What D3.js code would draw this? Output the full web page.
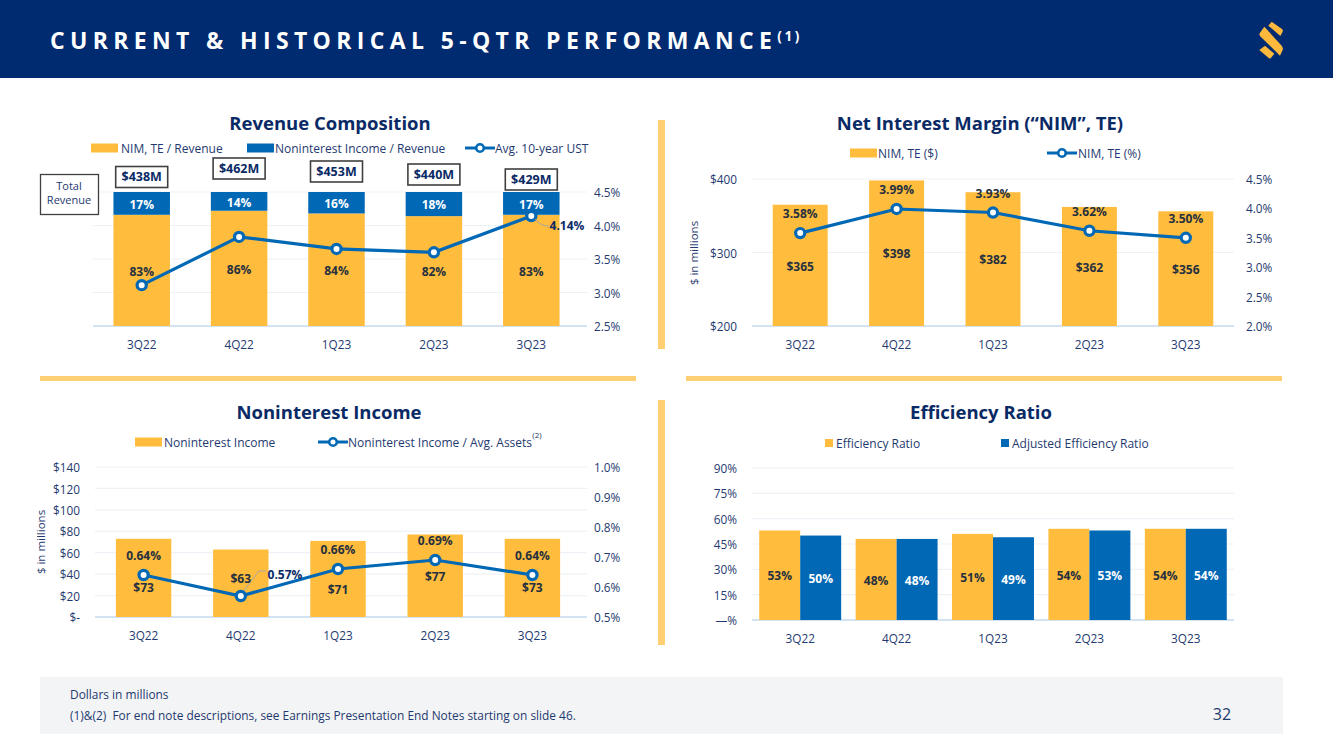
<!DOCTYPE html>
<html><head><meta charset="utf-8">
<script src="https://cdn.jsdelivr.net/npm/d3@7/dist/d3.min.js"></script>
<style>
html,body{margin:0;padding:0;background:#fff;overflow:hidden}
svg{display:block}
text{font-family:"Open Sans",sans-serif}
.tick text{fill:#1f3a70;font-size:11.8px}
</style></head><body><svg id="c" width="1333" height="749"></svg>
<script>
const quarters = ["3Q22","4Q22","1Q23","2Q23","3Q23"];
const nimShare = [83,86,84,82,83];
const nonintShare = [17,14,16,18,17];
const avgUst = [3.11,3.83,3.65,3.60,4.14];
const totalRevenue = ["$438M","$462M","$453M","$440M","$429M"];
const nimDollars = [365,398,382,362,356];
const nimPercent = [3.58,3.99,3.93,3.62,3.50];
const nonintDollars = [73,63,71,77,73];
const nonintAssets = [0.64,0.57,0.66,0.69,0.64];
const effRatio = [53,48,51,54,54];
const adjEffRatio = [50,48,49,53,54];
const revRightTicks = [2.5,3,3.5,4,4.5];
const nimLeftTicks = [200,300,400];
const nimRightTicks = [2,2.5,3,3.5,4,4.5];
const nonintLeftTicks = [0,20,40,60,80,100,120,140];
const nonintRightTicks = [0.5,0.6,0.7,0.8,0.9,1.0];
const effTicks = [0,15,30,45,60,75,90];

// layout nudges for hand-placed labels in the original slide
const totalBoxCenters = [177,168.5,171.5,174.5,179.5];
const nonintDollarLabelY = [588,579,590,577,588];

const YEL="#FFBC3D", BLU="#0068B5", NAVY="#0A2A66", TXT="#1F3A70", DARK="#26303F", GRID="#EEF1F6", BASE="#C9DCF0";
const svg=d3.select("#c");

// page chrome
svg.append("rect").attr("width",1333).attr("height",78).attr("fill","#002B70");
svg.append("text").attr("x",50).attr("y",49).attr("fill","#fff").attr("font-size",23).attr("font-weight",700)
  .attr("letter-spacing",5.35).text("CURRENT & HISTORICAL 5-QTR PERFORMANCE")
  .append("tspan").attr("font-size",13.5).attr("dy",-8).attr("letter-spacing",2.5).text("(1)");
const logo=svg.append("g").attr("transform","translate(1230,5) scale(.3333)").attr("fill","#FDB93C");
["M115 62L125 50L156 72Q160 76 158 80L151 93Z","M89 85L103 65L155 122Q160 128 158 135L150 152L92 95Q87 90 89 85Z","M88 135L105 122L133 146L122 160Q120 161 117 160Z"]
 .forEach(d=>logo.append("path").attr("d",d));
[[658,120,7,229],[40,376,596,5],[686,376,596,5],[658,400,7,245]].forEach(r=>
  svg.append("rect").attr("x",r[0]).attr("y",r[1]).attr("width",r[2]).attr("height",r[3]).attr("fill","#FFD073"));
svg.append("rect").attr("x",40).attr("y",677).attr("width",1243).attr("height",57).attr("fill","#F3F4F5");
svg.append("text").attr("x",70).attr("y",699).attr("font-size",11.9).attr("fill",TXT).text("Dollars in millions");
svg.append("text").attr("x",70).attr("y",720).attr("font-size",11.9).attr("fill",TXT).text("(1)&(2)\u00A0\u00A0For end note descriptions, see Earnings Presentation End Notes starting on slide 46.");
svg.append("text").attr("x",1222).attr("y",720).attr("font-size",16).attr("text-anchor","middle").attr("fill",TXT).text("32");

function title(t,x,y){svg.append("text").attr("x",x).attr("y",y).attr("text-anchor","middle").attr("font-size",18.5).attr("font-weight",700).attr("fill",NAVY).text(t);}
function label(t,x,y,col,size){return svg.append("text").attr("x",x).attr("y",y).attr("dy","0.35em").attr("text-anchor","middle").attr("font-size",size||12).attr("font-weight",700).attr("fill",col||DARK).text(t);}
function legendText(t,x,y){return svg.append("text").attr("x",x).attr("y",y+0.8).attr("dy","0.35em").attr("font-size",12).attr("fill",TXT).text(t);}
function swatch(x,y,w,col){const h=w<12?w:9;svg.append("rect").attr("x",x).attr("y",y-h/2).attr("width",w).attr("height",h).attr("fill",col);}
function legendLine(x,y){svg.append("line").attr("x1",x).attr("x2",x+30).attr("y1",y).attr("y2",y).attr("stroke",BLU).attr("stroke-width",3);
  svg.append("circle").attr("cx",x+15).attr("cy",y).attr("r",3.8).attr("fill","#fff").attr("stroke",BLU).attr("stroke-width",2.6);}
function frame(cfg){
  const x=d3.scaleBand().domain(quarters).range([cfg.x0,cfg.x1]).paddingInner(cfg.pad).paddingOuter(cfg.pad/2);
  const gridScale=cfg.left||cfg.right;
  const g=svg.append("g");
  cfg.gridTicks.forEach(t=>{g.append("line").attr("x1",cfg.x0).attr("x2",cfg.gx1||cfg.x1).attr("y1",gridScale(t)).attr("y2",gridScale(t)).attr("stroke",GRID).attr("stroke-width",1.2);});
  g.append("line").attr("x1",cfg.x0).attr("x2",cfg.gx1||cfg.x1).attr("y1",cfg.y1).attr("y2",cfg.y1).attr("stroke",BASE).attr("stroke-width",1.4);
  const ax=d3.axisBottom(x).tickSize(0).tickPadding(0);
  const a=svg.append("g").attr("transform",`translate(0,${cfg.y1+18.8})`).call(ax);
  a.select(".domain").remove();a.selectAll("text").attr("dy","0.35em");
  return x;
}
function yAxis(scale,ticks,fmt,xPos,side,anchor){
  const ax=(side==="left"?d3.axisLeft(scale):d3.axisRight(scale)).tickValues(ticks).tickFormat(fmt).tickSize(0).tickPadding(0);
  const a=svg.append("g").attr("transform",`translate(${xPos},0.8)`).call(ax);
  a.select(".domain").remove();
  if(anchor)a.selectAll("text").attr("text-anchor",anchor);
}
function combo(x,y,vals){
  const cx=d=>x(quarters[d])+x.bandwidth()/2;
  svg.append("path").attr("d",d3.line().x((d,i)=>cx(i)).y(d=>y(d))(vals)).attr("fill","none").attr("stroke",BLU).attr("stroke-width",3.2);
  svg.append("g").selectAll("circle").data(vals).join("circle").attr("cx",(d,i)=>cx(i)).attr("cy",d=>y(d)).attr("r",4.6).attr("fill","#fff").attr("stroke",BLU).attr("stroke-width",3.2);
}
function ylabel(t,x,y){svg.append("text").attr("transform",`translate(${x},${y}) rotate(-90)`).attr("text-anchor","middle").attr("font-size",11.5).attr("fill",TXT).text(t);}
const usd=d=>"$"+d, pct1=d=>d3.format(".1f")(d)+"%";

// ---- Revenue Composition
(function(){
  const y0=192,y1=326;
  title("Revenue Composition",330,130);
  swatch(91,148,27,YEL);legendText("NIM, TE / Revenue",121,148);
  swatch(247,148,27,BLU);legendText("Noninterest Income / Revenue",275,148);
  legendLine(465,148);legendText("Avg. 10-year UST",495,148);
  const s=d3.scaleLinear().domain([0,100]).range([y1,y0]);
  const r=d3.scaleLinear().domain([2.5,4.5]).range([y1,y0]);
  const x=frame({x0:93,x1:580,gx1:587,y1,pad:0.42,left:null,right:r,gridTicks:revRightTicks});
  yAxis(r,revRightTicks,pct1,594,"right");
  svg.append("g").selectAll("rect").data(nimShare).join("rect").attr("x",(d,i)=>x(quarters[i])).attr("width",x.bandwidth()).attr("y",d=>s(d)).attr("height",d=>y1-s(d)).attr("fill",YEL);
  svg.append("g").selectAll("rect").data(nonintShare).join("rect").attr("x",(d,i)=>x(quarters[i])).attr("width",x.bandwidth()).attr("y",s(100)).attr("height",d=>y1-s(d)).attr("fill",BLU);
  combo(x,r,avgUst);
  quarters.forEach((q,i)=>{
    const c=x(q)+x.bandwidth()/2;
    label(nimShare[i]+"%",c,(s(nimShare[i])+y1)/2+1);
    label(nonintShare[i]+"%",c,(s(nimShare[i])+y0)/2+1,"#fff");
    svg.append("rect").attr("x",c-26).attr("y",totalBoxCenters[i]-10.5).attr("width",52).attr("height",21).attr("fill","#fff").attr("stroke","#404040").attr("stroke-width",1.6);
    label(totalRevenue[i],c,totalBoxCenters[i],NAVY,12.5);
  });
  const c5=x("3Q23")+x.bandwidth()/2;
  svg.append("path").attr("d",`M${c5+4} ${r(4.14)+3}Q${c5+9} ${r(4.14)+10} 549 ${r(4.14)+10}`).attr("fill","none").attr("stroke","#A6A6A6");
  label("4.14%",567,226,NAVY);
  svg.append("rect").attr("x",40.5).attr("y",174.5).attr("width",58).attr("height",40).attr("fill","#fff").attr("stroke","#404040").attr("stroke-width",1.3);
  ["Total","Revenue"].forEach((t,i)=>svg.append("text").attr("x",69).attr("y",190+i*14).attr("text-anchor","middle").attr("font-size",11).attr("fill",TXT).text(t));
})();

// ---- NIM
(function(){
  const y0=179,y1=326;
  title("Net Interest Margin (\u201CNIM\u201D, TE)",980,130);
  swatch(850,153,27,YEL);legendText("NIM, TE ($)",878,153);
  legendLine(1047,153);legendText("NIM, TE (%)",1078,153);
  const l=d3.scaleLinear().domain([200,400]).range([y1,y0]);
  const r=d3.scaleLinear().domain([2,4.5]).range([y1,y0]);
  const x=frame({x0:752,x1:1234,y1,pad:0.43,left:l,gridTicks:nimLeftTicks});
  yAxis(l,nimLeftTicks,usd,737,"left");
  yAxis(r,nimRightTicks,pct1,1246,"right");
  ylabel("$ in millions",698,253);
  svg.append("g").selectAll("rect").data(nimDollars).join("rect").attr("x",(d,i)=>x(quarters[i])).attr("width",x.bandwidth()).attr("y",d=>l(d)).attr("height",d=>y1-l(d)).attr("fill",YEL);
  combo(x,r,nimPercent);
  quarters.forEach((q,i)=>{
    const c=x(q)+x.bandwidth()/2;
    label("$"+nimDollars[i],c,(l(nimDollars[i])+y1)/2+1);
    label(d3.format(".2f")(nimPercent[i])+"%",c,r(nimPercent[i])-19);
  });
})();

// ---- Noninterest Income
(function(){
  const y0=467,y1=617;
  title("Noninterest Income",329,419);
  swatch(135,442,27,YEL);legendText("Noninterest Income",164,442);
  legendLine(318,442);legendText("Noninterest Income / Avg. Assets",348,442);
  svg.append("text").attr("x",537).attr("y",438).attr("text-anchor","middle").attr("font-size",8).attr("fill",TXT).text("(2)");
  const l=d3.scaleLinear().domain([0,140]).range([y1,y0]);
  const r=d3.scaleLinear().domain([0.5,1.0]).range([y1,y0]);
  const x=frame({x0:95,x1:581,gx1:587,y1,pad:0.43,left:l,gridTicks:nonintLeftTicks});
  yAxis(l,nonintLeftTicks,d=>d===0?"$-":"$"+d,80,"left");
  yAxis(r,nonintRightTicks,pct1,594,"right");
  ylabel("$ in millions",45,542);
  svg.append("g").selectAll("rect").data(nonintDollars).join("rect").attr("x",(d,i)=>x(quarters[i])).attr("width",x.bandwidth()).attr("y",d=>l(d)).attr("height",d=>y1-l(d)).attr("fill",YEL);
  const c4=x("4Q22")+x.bandwidth()/2;
  svg.append("path").attr("d",`M${c4+2} ${r(0.57)-4}L${c4+18} ${r(0.57)-25}H${c4+25}`).attr("fill","none").attr("stroke","#A6A6A6");
  combo(x,r,nonintAssets);
  quarters.forEach((q,i)=>{
    const c=x(q)+x.bandwidth()/2;
    label("$"+nonintDollars[i],c,nonintDollarLabelY[i]);
    if(i===1) label(d3.format(".2f")(nonintAssets[i])+"%",285,575,NAVY);
    else label(d3.format(".2f")(nonintAssets[i])+"%",c,r(nonintAssets[i])-19);
  });
})();

// ---- Efficiency
(function(){
  const y0=468,y1=620;
  title("Efficiency Ratio",981,419);
  swatch(825,443,8,YEL);legendText("Efficiency Ratio",836,443);
  swatch(1001,443,8,BLU);legendText("Adjusted Efficiency Ratio",1012,443);
  const l=d3.scaleLinear().domain([0,90]).range([y1,y0]);
  const x=frame({x0:752,x1:1234,y1,pad:0.15,left:l,gridTicks:effTicks});
  yAxis(l,effTicks,d=>d===0?"\u2014%":d+"%",737,"left");
  const bw=x.bandwidth()/2;
  svg.append("g").selectAll("rect").data(effRatio).join("rect").attr("x",(d,i)=>x(quarters[i])).attr("width",bw).attr("y",d=>l(d)).attr("height",d=>y1-l(d)).attr("fill",YEL);
  svg.append("g").selectAll("rect").data(adjEffRatio).join("rect").attr("x",(d,i)=>x(quarters[i])+bw).attr("width",bw).attr("y",d=>l(d)).attr("height",d=>y1-l(d)).attr("fill",BLU);
  quarters.forEach((q,i)=>{
    label(effRatio[i]+"%",x(q)+bw/2,(l(effRatio[i])+y1)/2+1);
    label(adjEffRatio[i]+"%",x(q)+bw*1.5,(l(adjEffRatio[i])+y1)/2+1,"#fff");
  });
})();
</script></body></html>
